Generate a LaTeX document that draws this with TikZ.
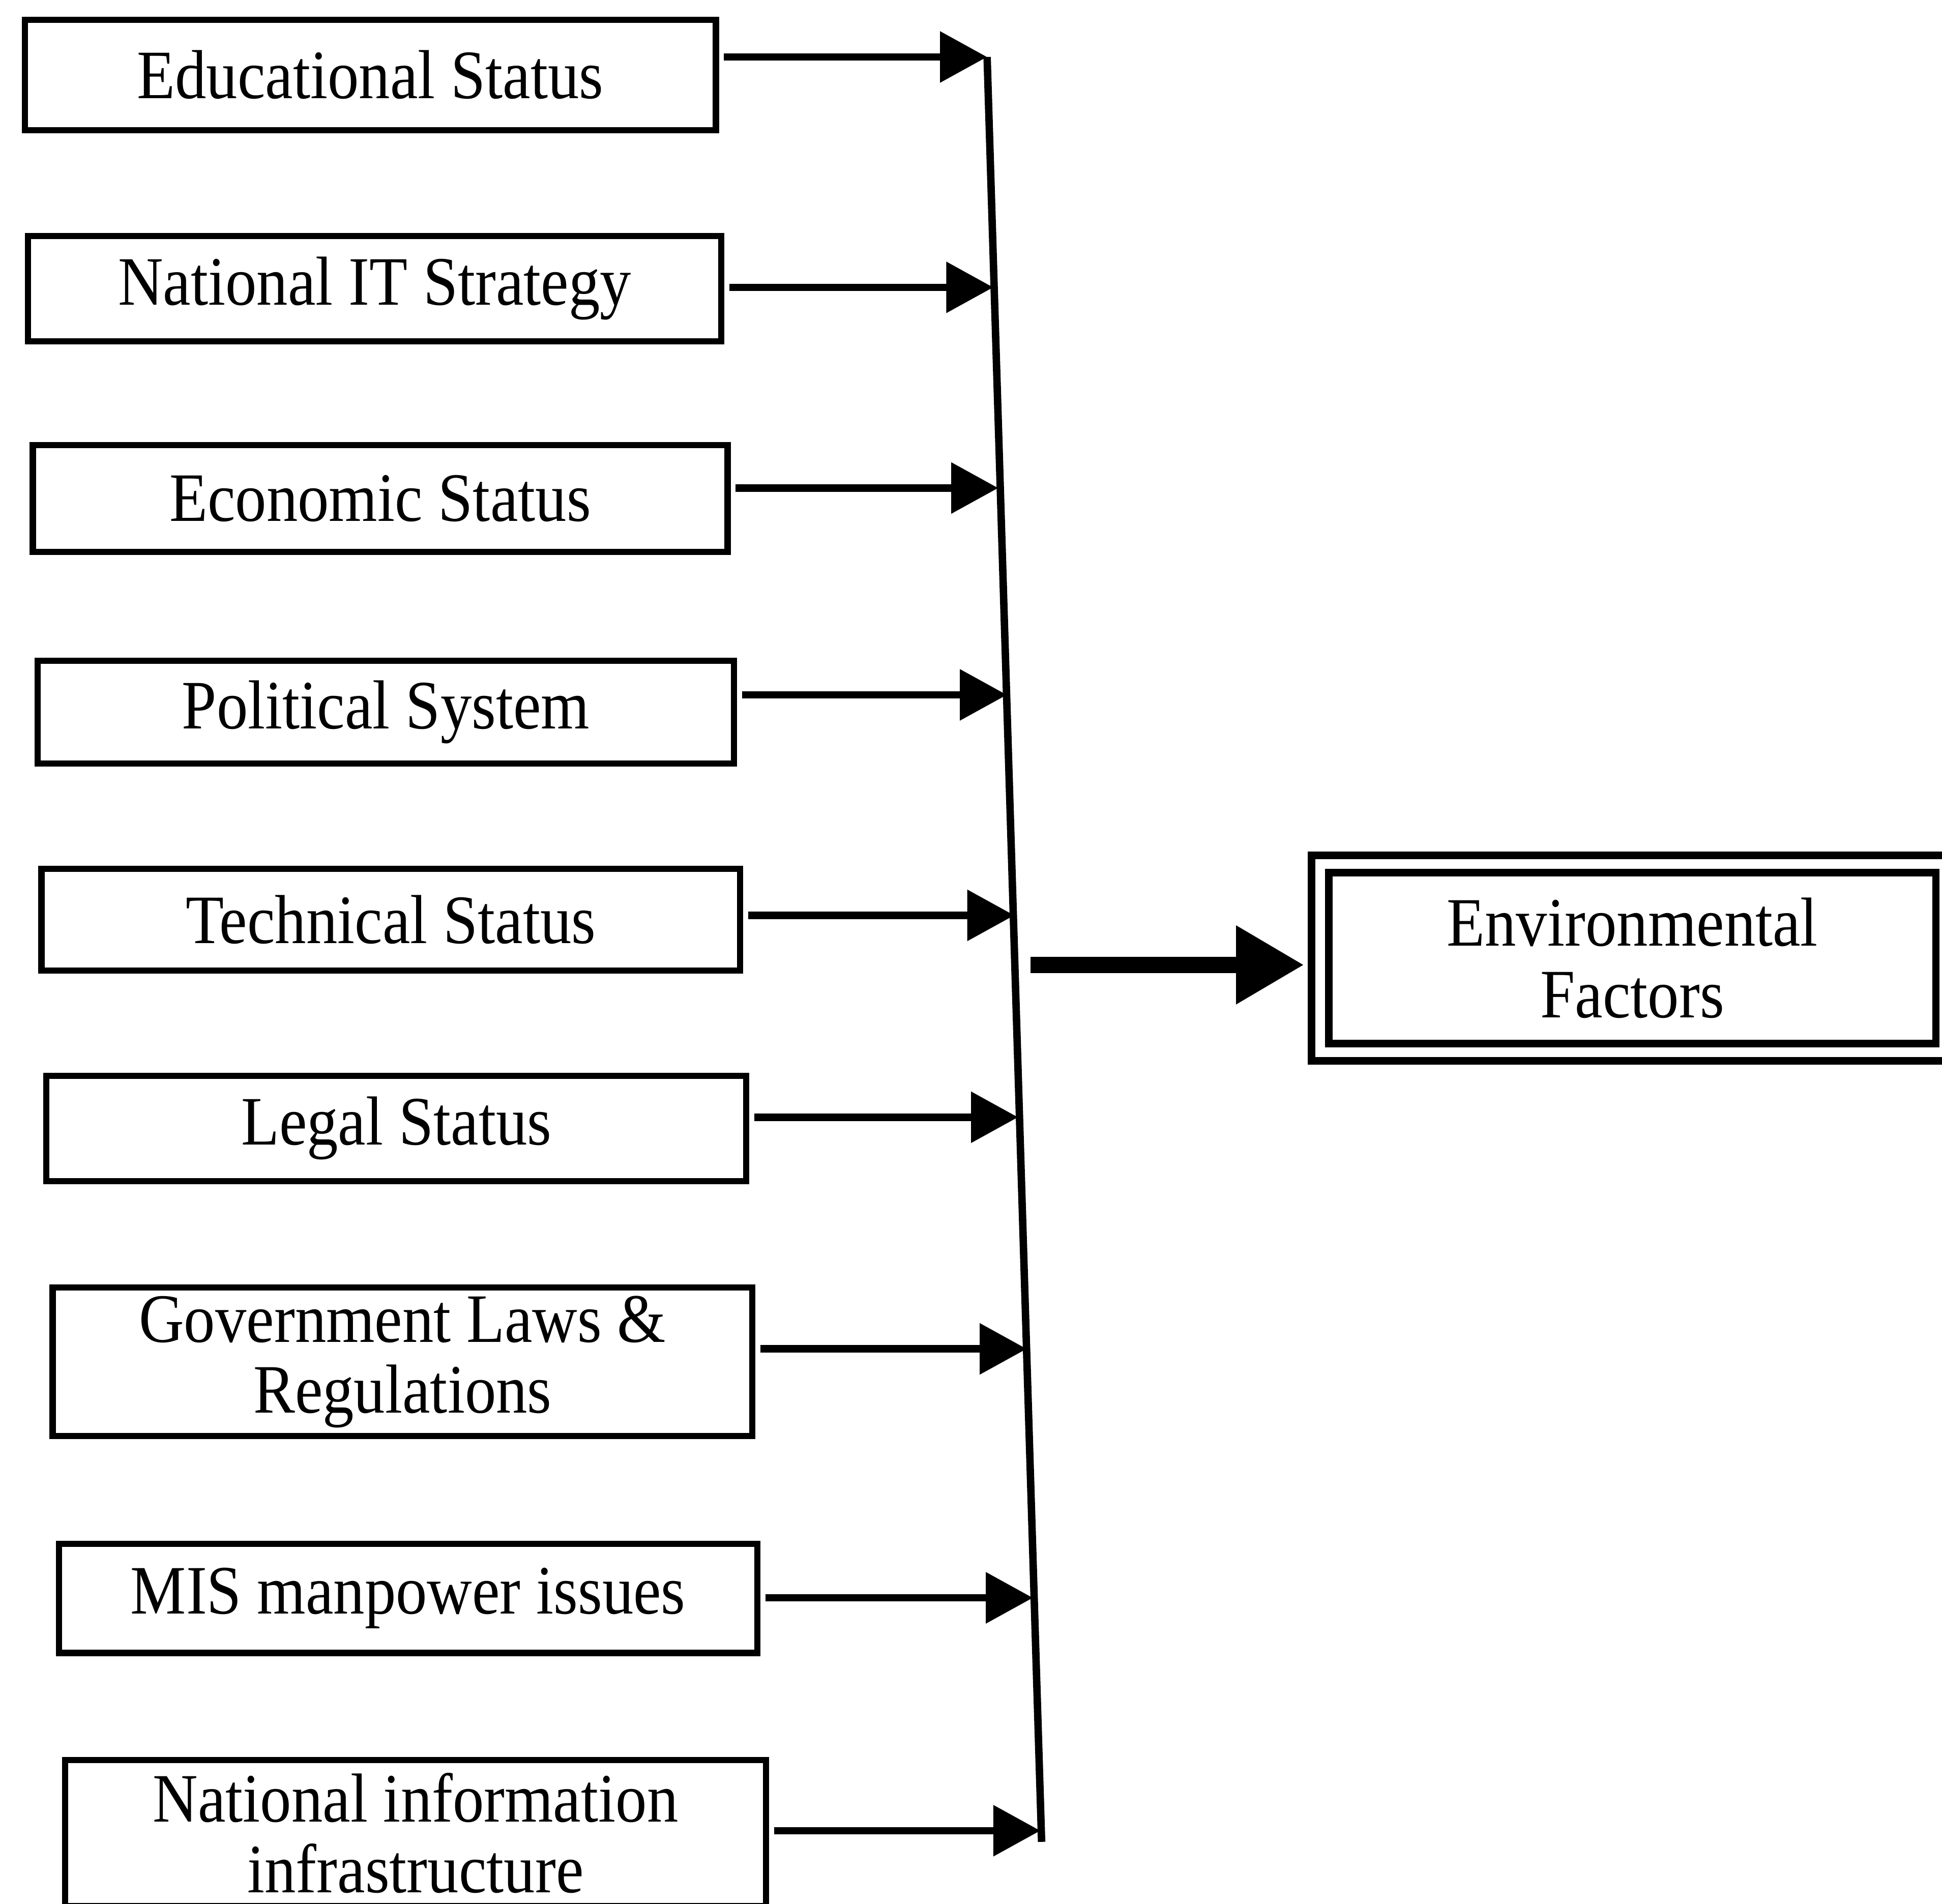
\documentclass[tikz,border=0pt]{standalone}
\usepackage{fontspec}
\setmainfont{Liberation Serif}[FakeStretch=0.9]
\usetikzlibrary{arrows.meta,calc}
\begin{document}
\begin{tikzpicture}[x=1pt,y=-1pt,
  fbox/.style={draw, line width=5pt, inner sep=0pt, align=center,
    font=\fontsize{56}{57}\selectfont},
  feed/.style={line width=6pt, -{Triangle[length=38pt,width=40pt]}},
  bus/.style={line width=6pt},
  mainarrow/.style={line width=13pt, -{Triangle[length=55pt,width=60pt]}},
  envbox/.style={draw, double, line width=6pt, double distance=8pt, inner sep=0pt,
    align=center, font=\fontsize{56}{58}\selectfont}
]
\useasboundingbox (0,0) rectangle (1568,1537);
\clip (0,0) rectangle (1568,1537);

% factor boxes
\node[fbox, minimum width=558pt, minimum height=89pt] (b1) at (299,60.5) {Educational Status};
\node[fbox, minimum width=560pt, minimum height=85pt] (b2) at (302.5,233) {National IT Strategy};
\node[fbox, minimum width=561pt, minimum height=86pt] (b3) at (307,402.5) {Economic Status};
\node[fbox, minimum width=562pt, minimum height=83pt] (b4) at (311.5,575) {Political System};
\node[fbox, minimum width=564pt, minimum height=82pt] (b5) at (315.5,742.5) {Technical Status};
\node[fbox, minimum width=565pt, minimum height=85pt] (b6) at (320,911) {Legal Status};
\node[fbox, minimum width=565pt, minimum height=120pt] (b7) at (325,1099.5) {Government Laws \&\\Regulations};
\node[fbox, minimum width=564pt, minimum height=88pt] (b8) at (329.5,1290.5) {MIS manpower issues};
\node[fbox, minimum width=566pt, minimum height=118pt] (b9) at (335.5,1480) {National information\\infrastructure};

% junction points on the collecting line
\coordinate (j1) at (797,46);
\coordinate (j2) at (802,232);
\coordinate (j3) at (806,394);
\coordinate (j4) at (813,561);
\coordinate (j5) at (819,739);
\coordinate (j6) at (822,902);
\coordinate (j7) at (829,1089);
\coordinate (j8) at (834,1290);
\coordinate (j9) at (840,1478);
\coordinate (jend) at (841,1487);

\draw[bus] (j1) -- (jend);

\foreach \i in {1,...,9}{
  \draw[feed] ([xshift=4pt]b\i.east |- j\i) -- (j\i);
}

% environmental factors
\node[envbox, minimum width=504pt, minimum height=152pt] (env) at (1318,773.5) {Environmental\\Factors};

\coordinate (hub) at (832,779);
\draw[mainarrow] (hub) -- ([xshift=-10pt]env.west |- hub);
\end{tikzpicture}
\end{document}
